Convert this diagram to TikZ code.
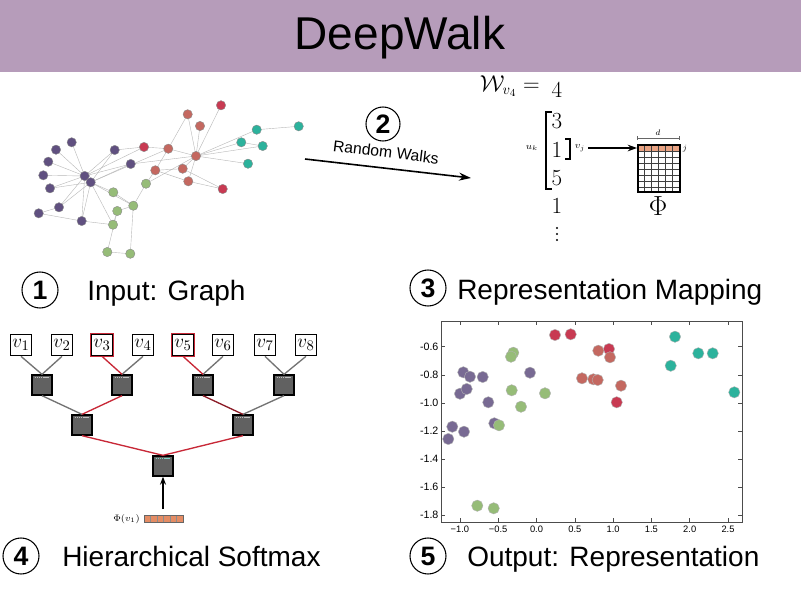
\documentclass[tikz,border=0pt]{standalone}
\usepackage{fontspec}
\setmainfont{Liberation Sans}
\usepackage{amsmath}
\usetikzlibrary{arrows.meta}
\definecolor{titlebar}{RGB}{182,156,186}
\definecolor{gpurple}{RGB}{96,80,128}
\definecolor{gred}{RGB}{200,58,82}
\definecolor{gsalmon}{RGB}{196,104,96}
\definecolor{ggreen}{RGB}{150,188,120}
\definecolor{gteal}{RGB}{44,178,156}
\definecolor{pathred}{RGB}{200,40,55}
\definecolor{vecorange}{RGB}{228,140,100}
\begin{document}
\begin{tikzpicture}[x=0.75pt,y=-0.75pt,
  heading/.style={anchor=base west,font=\fontsize{21}{25}\selectfont,inner sep=0},
  numcirc/.style={circle,draw,line width=0.8pt,minimum size=27pt,inner sep=0,font=\fontsize{20}{24}\selectfont\bfseries},
  gnode/.style={circle,inner sep=0,minimum size=7pt,draw=black!45,line width=0.3pt},
  gedge/.style={draw=black!28,line width=0.3pt},
  leafbox/.style={draw,line width=1pt,minimum size=16pt,inner sep=0,fill=white,font=\fontsize{15}{15}\selectfont},
  innerbox/.style={draw,line width=1pt,fill=black!62,minimum size=15pt,inner sep=0},
  treeedge/.style={draw=black!55,line width=1pt},
  pathedge/.style={draw=pathred,line width=1pt},
  ptnode/.style={circle,inner sep=0,minimum size=8.5pt,draw=black!30,line width=0.3pt},
  ticklab/.style={font=\fontsize{7}{8}\selectfont,inner sep=1pt}]
\useasboundingbox (0,0) rectangle (801,601);
\fill[white] (0,0) rectangle (801,601);
% title bar
\fill[titlebar] (0,0) rectangle (801,72);
\node[font=\fontsize{34.5}{40}\selectfont] (title) at (400,38) {DeepWalk};

% ---------- 1: input graph ----------
\foreach \n/\x/\y in {pa/71.7/142.3,pb/56/149.7,pc/48.3/161.7,pd/43.3/175.3,pe/50/188.3,h1/84.7/176,h2/90.7/182.3,pf/114.7/150,pg/130.7/164,ph/59/207.3,pi/38.7/213.3,pj/81.7/221,
  ga/113.3/192.3,gb/133.3/205.7,gc/117.3/211,gd/113/224.7,ge/146/183.7,gf/107.3/252,gg/130.3/253.7,
  ra/144/147,rb/168.3/148.7,rc/187.7/114.3,rd/221/105.3,re/200/126,rf/196/156,rg/155.3/170.3,rh/182.7/168.7,ri/188.3/181.3,rj/222.7/189,
  ta/256.7/129.7,tb/241.3/142.3,tc/262.7/146,td/248/163.7,te/298.7/126.3}
  \coordinate (\n) at (\x,\y);
\foreach \a/\b in {h1/pa,h1/pb,h1/pc,h1/pd,h1/pe,h2/pe,h1/pf,h2/pf,h2/pg,h1/pg,h2/ph,h1/ph,h2/pj,h1/pj,ph/pi,h1/h2,h2/ga,h2/gb,pj/gd,gd/gc,gc/gb,
  h1/ra,h2/rb,pf/ra,ra/rb,rb/rf,rb/rg,rb/rc,rc/rf,re/rf,rd/rf,rf/rh,rf/ri,rf/ta,rf/tb,rf/td,rf/tc,ta/te,tb/tc,rg/ge,rg/rh,rg/ri,ri/rj,rh/rj,ge/gb,gb/gg,gf/gg,gf/gc,ge/rf,pg/rf,ga/gb,h2/gd,pi/pj}
  \draw[gedge] (\a) -- (\b);
\foreach \n in {pa,pb,pc,pd,pe,h1,h2,pf,pg,ph,pi,pj}
  \node[gnode,fill=gpurple] (n\n) at (\n) {};
\foreach \n in {ga,gb,gc,gd,ge,gf,gg}
  \node[gnode,fill=ggreen] (n\n) at (\n) {};
\foreach \n in {ra,rd,rj}
  \node[gnode,fill=gred] (n\n) at (\n) {};
\foreach \n in {rb,rc,re,rf,rg,rh,ri}
  \node[gnode,fill=gsalmon] (n\n) at (\n) {};
\foreach \n in {ta,tb,tc,td,te}
  \node[gnode,fill=gteal] (n\n) at (\n) {};

\node[numcirc] (c1) at (40,290) {1};
\node[heading] (h1t) at (87,300) {Input: Graph};

% ---------- 2: random walks ----------
\node[numcirc,minimum size=25.5pt] (c2) at (383,124) {2};
\node[font=\fontsize{11.8}{13}\selectfont,rotate=-7] (rwlab) at (386,152) {Random Walks};
\coordinate (rwA) at (305,159);
\coordinate (rwB) at (471,178);
\draw[-{Stealth[length=9pt,width=6pt]},line width=1.2pt] (rwA) -- (rwB);

\node[anchor=east,font=\fontsize{16}{18}\selectfont,inner sep=0] (wlab) at (540,86) {$\mathcal{W}_{v_4}=$};
\foreach \n/\v/\y in {s1/4/90,s2/3/121,s3/1/150,s4/5/178,s5/1/206}
  \node[font=\fontsize{16}{18}\selectfont,inner sep=0] (\n) at (557,\y) {$\v$};
\foreach \y in {228,234,240}
  \fill (557,\y) circle[radius=0.9pt];
\draw[line width=1.3pt] (552,112) -- (546,112) -- (546,189) -- (552,189);
\draw[line width=1.3pt] (565,139) -- (570,139) -- (570,159) -- (565,159);
\node[font=\fontsize{7.5}{8}\selectfont,inner sep=0] (uk) at (532,148) {$u_k$};
\node[font=\fontsize{7.5}{8}\selectfont,inner sep=0] (vj) at (580,148) {$v_j$};
% matrix Phi
\fill[vecorange!80] (637,144) rectangle (679,151);
\foreach \x in {644,651,658,665,672}
  \draw[black!75,line width=0.3pt] (\x,144) -- (\x,191);
\foreach \y in {151,157,163,169,175,181,187}
  \draw[black!75,line width=0.3pt] (637,\y) -- (679,\y);
\node[draw,line width=1.2pt,minimum width=31.5pt,minimum height=35.25pt,inner sep=0,anchor=north west] (phim) at (637,144) {};
\draw[black!60,line width=0.4pt] (637,138) -- (679,138);
\draw[black!60,line width=0.4pt] (637,136) -- (637,140);
\draw[black!60,line width=0.4pt] (679,136) -- (679,140);
\node[font=\fontsize{6.5}{7}\selectfont,inner sep=0] (dlab) at (658,133) {$d$};
\node[font=\fontsize{6.5}{7}\selectfont,inner sep=0] (jlab) at (685,149) {$j$};
\draw[-{Stealth[length=7pt,width=5pt]},line width=1pt] (vj.east) ++(3,0) -- (phim.west |- vj);
\node[font=\fontsize{20}{22}\selectfont,inner sep=0] (philab) at (658,206) {$\Phi$};

% ---------- 3 ----------
\node[numcirc] (c3) at (428,288) {3};
\node[heading] (h3t) at (457,299) {Representation Mapping};

% ---------- 4: hierarchical softmax ----------
\foreach \n/\x in {1/21,2/62,3/102,4/143,5/183,6/223,7/265,8/306}
  \node[leafbox] (v\n) at (\x,345) {$v_{\n}$};
\draw[pathred,line width=1pt] (v3.north west) rectangle (v3.south east);
\draw[pathred,line width=1pt] (v5.north west) rectangle (v5.south east);
\node[innerbox] (a1) at (42,385) {};
\node[innerbox] (a2) at (122,385) {};
\node[innerbox] (a3) at (203,385) {};
\node[innerbox] (a4) at (284,385) {};
\node[innerbox] (b1) at (82,425) {};
\node[innerbox] (b2) at (243,425) {};
\node[innerbox] (root) at (163,466) {};
\foreach \n in {a1,a2,a3,a4,b1,b2}
  \draw[black!25,line width=0.8pt,dash pattern=on 1pt off 0.6pt] ([shift={(2.5pt,-2.5pt)}]\n.north west) -- ([shift={(-2.5pt,-2.5pt)}]\n.north east);
\draw[gteal!60!white,line width=0.9pt,dash pattern=on 1pt off 0.6pt] ([shift={(2.5pt,-2.5pt)}]root.north west) -- ([shift={(-2.5pt,-2.5pt)}]root.north east);
\draw[treeedge] (v1.south) -- (a1.north);
\draw[treeedge] (v2.south) -- (a1.north);
\draw[treeedge] (v4.south) -- (a2.north);
\draw[treeedge] (v6.south) -- (a3.north);
\draw[treeedge] (v7.south) -- (a4.north);
\draw[treeedge] (v8.south) -- (a4.north);
\draw[treeedge] (a1.south) -- (b1.north);
\draw[treeedge] (a4.south) -- (b2.north);
\draw[pathedge] (v3.south) -- (a2.north);
\draw[pathedge] (v5.south) -- (a3.north);
\draw[pathedge] (a2.south) -- (b1.north);
\draw[pathedge,draw=pathred!70!black] (a3.south) -- (b2.north);
\draw[pathedge] (b1.south) -- (root.north);
\draw[pathedge] (b2.south) -- (root.north);
% input vector
\node[draw=black!60,fill=vecorange,line width=0.4pt,minimum width=29pt,minimum height=5pt,inner sep=0,anchor=west] (vec) at (144,519) {};
\foreach \x in {150.5,157,163.5,170,176.5}
  \draw[black!45,line width=0.3pt] (\x,516) -- (\x,522);
\node[font=\fontsize{7.5}{8}\selectfont,inner sep=0,anchor=east] (philabel) at (140,519) {$\Phi(v_1)$};
\coordinate (arrS) at (163,509);
\draw[-{Stealth[length=6pt,width=4.5pt]},line width=0.9pt] (arrS) -- (root.south);

\node[numcirc] (c4) at (21,556) {4};
\node[heading] (h4t) at (62,566) {Hierarchical Softmax};

% ---------- 5: output representation ----------
\draw[black!70,line width=0.5pt] (441,321) rectangle (742,522);
\foreach \x/\l in {459.9/{−1.0},498.2/{−0.5},536.5/{0.0},574.8/{0.5},613.1/{1.0},651.4/{1.5},689.7/{2.0},728/{2.5}}{
  \draw[black!70,line width=0.4pt] (\x,522) -- (\x,518);
  \draw[black!70,line width=0.4pt] (\x,321) -- (\x,325);
  \node[ticklab,anchor=north] at (\x,524) {\l};
}
\foreach \y/\l in {346.7/{-0.6},374.8/{-0.8},402.9/{-1.0},430.9/{-1.2},459/{-1.4},487.1/{-1.6},515.2/{-1.8}}{
  \draw[black!70,line width=0.4pt] (441,\y) -- (445,\y);
  \draw[black!70,line width=0.4pt] (742,\y) -- (738,\y);
  \node[ticklab,anchor=east,font=\fontsize{8}{9}\selectfont] at (440,\y) {\l};
}
\foreach \x/\y [count=\i] in {463.3/372.3,470/376.7,482.7/377,460/393.7,466.7/389,488.3/402.3,530/372.7,452.3/426.7,464/431.7,448.3/439,494.3/423.3}
  \node[ptnode,fill=gpurple!85] (pp\i) at (\x,\y) {};
\foreach \x/\y [count=\i] in {499/425.3,513.3/352.7,511/356.7,511.7/390.3,521/406.7,545/393.3,477.3/505.7,493.7/508.3}
  \node[ptnode,fill=ggreen] (pg\i) at (\x,\y) {};
\foreach \x/\y [count=\i] in {555/335,570.7/334.3,609/349,616.7/402.3}
  \node[ptnode,fill=gred] (pr\i) at (\x,\y) {};
\foreach \x/\y [count=\i] in {598.3/350.7,610/357.3,582/378.3,593.3/379.3,597.7/380,621/385.7}
  \node[ptnode,fill=gsalmon] (ps\i) at (\x,\y) {};
\foreach \x/\y [count=\i] in {675/336.7,698.3/353.3,712.7/353.3,670.7/365.7,734.3/392.3}
  \node[ptnode,fill=gteal] (pt\i) at (\x,\y) {};

\node[numcirc] (c5) at (428,556) {5};
\node[heading] (h5t) at (467,566) {Output: Representation};
\end{tikzpicture}
\end{document}
